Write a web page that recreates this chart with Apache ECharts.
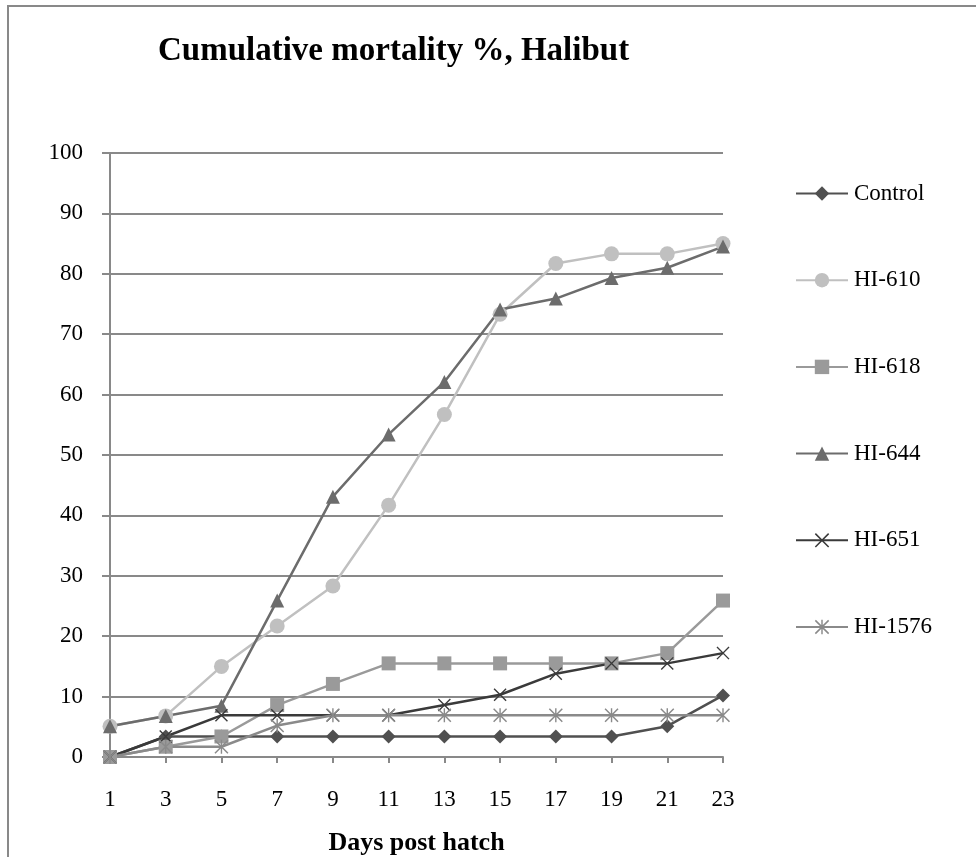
<!DOCTYPE html>
<html>
<head>
<meta charset="utf-8">
<script src="https://cdn.jsdelivr.net/npm/echarts@6/dist/echarts.min.js"></script>
<style>
html,body{margin:0;padding:0;background:#fff;overflow:hidden;}
#frame{position:absolute;left:7px;top:5px;width:2000px;height:2000px;border:2px solid #898989;box-sizing:border-box;}
#chart{position:absolute;left:0;top:0;width:976px;height:857px;}
</style>
</head>
<body>
<div id="frame"></div>
<div id="chart"></div>
<script>
const days = ['1','3','5','7','9','11','13','15','17','19','21','23'];
const seriesNames = ['Control','HI-610','HI-618','HI-644','HI-651','HI-1576'];
const control = [0,3.4,3.4,3.4,3.4,3.4,3.4,3.4,3.4,3.4,5.1,10.2];
const hi610 = [5.1,6.8,15.0,21.7,28.3,41.7,56.7,73.3,81.7,83.3,83.3,85.0];
const hi618 = [0,1.7,3.4,8.6,12.1,15.5,15.5,15.5,15.5,15.5,17.2,25.9];
const hi644 = [5.1,6.8,8.5,25.9,43.1,53.4,62.1,74.1,75.9,79.3,81.0,84.5];
const hi651 = [0,3.4,6.9,6.9,6.9,6.9,8.6,10.3,13.8,15.5,15.5,17.2];
const hi1576 = [0,1.7,1.7,5.2,6.9,6.9,6.9,6.9,6.9,6.9,6.9,6.9];
const titleText = 'Cumulative mortality %, Halibut';
const xAxisTitle = 'Days post hatch';

const crossPath = 'path://M0,1.5L1.5,0L20,18.5L18.5,20Z M18.5,0L20,1.5L1.5,20L0,18.5Z';
const starPath = 'path://M0,1.5L1.5,0L20,18.5L18.5,20Z M18.5,0L20,1.5L1.5,20L0,18.5Z M9,0L11,0L11,20L9,20Z';

const values = [control, hi610, hi618, hi644, hi651, hi1576];
const colors = ['#505050','#c0c0c0','#9a9a9a','#6c6c6c','#3a3a3a','#8a8a8a'];
const symbols = ['diamond','circle','rect','triangle',crossPath,starPath];
const sizes = [14,15,14,14,13,14];

const font = '"Liberation Serif","Times New Roman",serif';
const chart = echarts.init(document.getElementById('chart'));
chart.setOption({
  animation:false,
  title:{text:titleText,left:158,top:35,padding:0,textStyle:{fontFamily:font,fontSize:33,fontWeight:'bold',color:'#000'}},
  legend:{
    orient:'vertical',left:795,top:182,padding:0,itemWidth:52,itemHeight:18,itemGap:63.7,
    textStyle:{fontFamily:font,fontSize:23,color:'#000',padding:[0,0,0,1]},
    data:seriesNames
  },
  grid:{left:110,right:253,top:153,bottom:100,outerBoundsMode:'none',containLabel:false},
  xAxis:{
    type:'category',data:days,boundaryGap:false,
    name:xAxisTitle,nameLocation:'middle',nameGap:73,
    nameTextStyle:{fontFamily:font,fontSize:26,fontWeight:'bold',color:'#000'},
    axisLine:{lineStyle:{color:'#898989',width:2}},
    axisTick:{show:true,length:6,lineStyle:{color:'#898989',width:2},alignWithLabel:true},
    axisLabel:{fontFamily:font,fontSize:23,color:'#000',margin:31}
  },
  yAxis:{
    type:'value',min:0,max:100,interval:10,
    axisLine:{show:true,lineStyle:{color:'#898989',width:2}},
    axisTick:{show:true,length:8,lineStyle:{color:'#898989',width:2}},
    axisLabel:{fontFamily:font,fontSize:23,color:'#000',margin:27},
    splitLine:{lineStyle:{color:'#898989',width:2}}
  },
  series: seriesNames.map((n,i)=>({
    name:n,type:'line',data:values[i],
    symbol:symbols[i],symbolSize:sizes[i],
    lineStyle:{color:colors[i],width:2.5},
    itemStyle:{color:colors[i]},
    emphasis:{disabled:true}
  }))
});
</script>
</body>
</html>
